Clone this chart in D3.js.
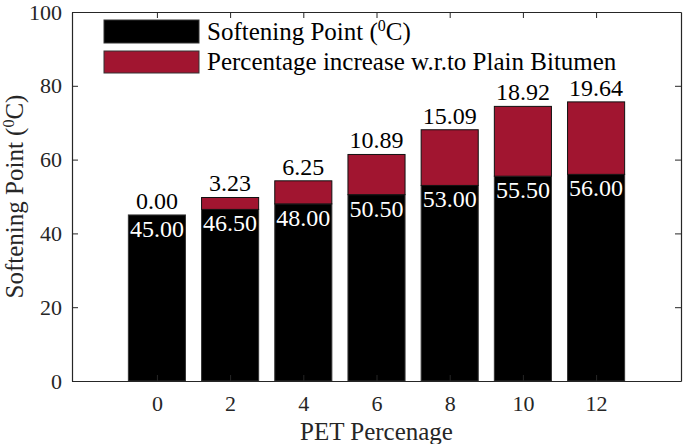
<!DOCTYPE html>
<html><head><meta charset="utf-8">
<script src="https://cdn.jsdelivr.net/npm/d3@7"></script>
<style>
body{margin:0;background:#fff;}
svg text, svg tspan { font-family: "Liberation Serif", "Times New Roman", Tinos, serif !important; }
</style></head>
<body><svg id="c" width="685" height="444" font-family="Liberation Serif"></svg>
<script>
const categories = [0, 2, 4, 6, 8, 10, 12];
const softeningPoint = [45.00, 46.50, 48.00, 50.50, 53.00, 55.50, 56.00];
const percentIncrease = [0.00, 3.23, 6.25, 10.89, 15.09, 18.92, 19.64];
const yTicks = [0, 20, 40, 60, 80, 100];
const seriesNames = ["Softening Point (", "Percentage increase w.r.to Plain Bitumen"];

(function () {
const svg = d3.select("#c");
const L = 72, R = 681, T = 12, B = 381;
const x = d3.scaleLinear().domain([-2.32, 14.32]).range([L, R]);
const y = d3.scaleLinear().domain([0, 100]).range([B, T]);
const step = x(2) - x(0);
const bw = step * 0.78;
const fsTick = 22, fsBar = 24, fsLab = 25;
const crimson = "#A11530";
const FF = "Liberation Serif";

// bars
const g = svg.append("g");
categories.forEach((c, i) => {
  const sp = softeningPoint[i], pi = percentIncrease[i];
  g.append("rect").attr("x", x(c) - bw / 2).attr("width", bw)
    .attr("y", y(sp)).attr("height", y(0) - y(sp))
    .attr("fill", "#000").attr("stroke", "#333").attr("stroke-width", 1);
  if (pi > 0) {
    g.append("rect").attr("x", x(c) - bw / 2).attr("width", bw)
      .attr("y", y(sp + pi)).attr("height", y(sp) - y(sp + pi))
      .attr("fill", crimson).attr("stroke", "#111").attr("stroke-width", 1);
  }
  g.append("text").attr("x", x(c)).attr("y", y(sp) + 22)
    .attr("text-anchor", "middle").style("font-size", fsBar + "px").style("font-family", FF).attr("fill", "#fff")
    .text(sp.toFixed(2));
  g.append("text").attr("x", x(c)).attr("y", y(sp + pi) - 6)
    .attr("text-anchor", "middle").style("font-size", fsBar + "px").style("font-family", FF).attr("fill", "#000")
    .text(pi.toFixed(2));
});

// axes
const axCol = "#262626";
const tl = 6;
const axLeft = svg.append("g").attr("transform", `translate(${L},0)`)
  .call(d3.axisLeft(y).tickValues(yTicks).tickSizeInner(-tl).tickSizeOuter(0).tickPadding(10));
const axRight = svg.append("g").attr("transform", `translate(${R},0)`)
  .call(d3.axisRight(y).tickValues(yTicks).tickSizeInner(-tl).tickSizeOuter(0).tickFormat(""));
const axBottom = svg.append("g").attr("transform", `translate(0,${B})`)
  .call(d3.axisBottom(x).tickValues(categories).tickSizeInner(-tl).tickSizeOuter(0).tickPadding(14));
const axTop = svg.append("g").attr("transform", `translate(0,${T})`)
  .call(d3.axisTop(x).tickValues(categories).tickSizeInner(-tl).tickSizeOuter(0).tickFormat(""));
[axLeft, axRight, axBottom, axTop].forEach(a => {
  a.attr("font-family", FF).attr("font-size", fsTick);
  a.selectAll("path").attr("stroke", axCol).attr("stroke-width", 1.2);
  a.selectAll("line").attr("stroke", axCol).attr("stroke-width", 1);
  a.selectAll("text").style("font-size", fsTick + "px").style("font-family", FF).attr("fill", "#262626");
});
axBottom.selectAll("text").attr("dy", "0.71em");

// axis labels
svg.append("text").attr("x", (L + R) / 2).attr("y", 440).attr("text-anchor", "middle")
  .style("font-size", fsLab + "px").style("font-family", FF).attr("fill", "#262626").text("PET Percenage");
const yl = svg.append("text").attr("transform", `translate(23,${(T + B) / 2}) rotate(-90)`)
  .attr("text-anchor", "middle").style("font-size", fsLab + "px").style("font-family", FF).attr("fill", "#262626");
yl.append("tspan").text("Softening Point (");
yl.append("tspan").style("font-size", "16px").attr("dy", -9).text("0");
yl.append("tspan").attr("dy", 9).text("C)");

// legend
const lg = svg.append("g");
const sw = [[20, 43, "#000"], [51, 73, crimson]];
sw.forEach((s) => {
  lg.append("rect").attr("x", 104).attr("y", s[0]).attr("width", 95).attr("height", s[1] - s[0])
    .attr("fill", s[2]).attr("stroke", "#333").attr("stroke-width", 1);
});
const t1 = lg.append("text").attr("x", 207).attr("y", 40).style("font-size", fsLab + "px").style("font-family", FF).attr("fill", "#000");
t1.append("tspan").text(seriesNames[0]);
t1.append("tspan").style("font-size", "16px").attr("dy", -9).text("0");
t1.append("tspan").attr("dy", 9).text("C)");
lg.append("text").attr("x", 207).attr("y", 70).style("font-size", fsLab + "px").style("font-family", FF).attr("fill", "#000").text(seriesNames[1]);
})();
</script></body></html>
